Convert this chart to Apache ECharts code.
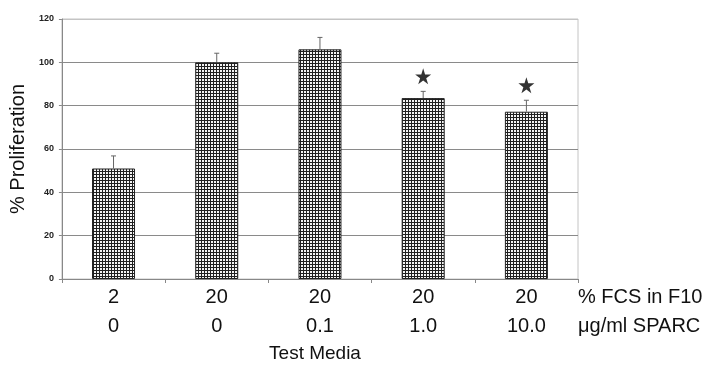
<!DOCTYPE html>
<html><head><meta charset="utf-8">
<script src="https://cdn.jsdelivr.net/npm/echarts@6/dist/echarts.min.js"></script>
<style>html,body{margin:0;padding:0;background:#fff}#c{width:720px;height:370px}</style>
</head><body><div id="c"></div>
<script>
const fcsLabels = ['2', '20', '20', '20', '20'];
const sparcLabels = ['0', '0', '0.1', '1.0', '10.0'];
const proliferation = [51, 100, 106, 83.5, 77.2];
const errorUp = [5.8, 4.2, 5.5, 3.1, 5.3];
const significant = [false, false, false, true, true];
const yTicks = { min: 0, max: 120, interval: 20 };

const categories = fcsLabels.map((f, i) => f + '\n' + sparcLabels[i]);

const tile = document.createElement('canvas');
tile.width = 3; tile.height = 3;
const tc = tile.getContext('2d');
tc.fillStyle = '#f4f4f4'; tc.fillRect(0, 0, 3, 3);
tc.fillStyle = '#202020';
tc.fillRect(0, 0, 3, 1);
tc.fillRect(0, 0, 1, 3);

const errData = proliferation.map((v, i) => [i, v, v + errorUp[i]]);
const starData = proliferation.map((v, i) => significant[i] ? [i, v + errorUp[i]] : null).filter(d => d);

const chart = echarts.init(document.getElementById('c'), null, { renderer: 'canvas' });
chart.setOption({
  animation: false,
  textStyle: { fontFamily: 'Liberation Sans, Arial, sans-serif' },
  grid: { left: 59, top: 19, width: 519, height: 260, show: true, borderColor: '#c4c4c4', borderWidth: 1 },
  xAxis: {
    type: 'category', data: categories,
    axisLine: { lineStyle: { color: '#888', width: 1 } },
    axisTick: { show: true, length: 4, lineStyle: { color: '#888' } },
    axisLabel: { fontSize: 20, color: '#111', lineHeight: 29, margin: 4, interval: 0 },
    name: '% FCS in F10\nμg/ml SPARC',
    nameLocation: 'end', nameGap: 0,
    nameTextStyle: { fontSize: 20, color: '#111', lineHeight: 29, align: 'left', verticalAlign: 'top', padding: [4, 0, 0, 0] }
  },
  yAxis: {
    type: 'value', min: yTicks.min, max: yTicks.max, interval: yTicks.interval,
    axisLine: { show: true, lineStyle: { color: '#888' } },
    axisTick: { show: true, length: 3, lineStyle: { color: '#888' } },
    axisLabel: { fontSize: 9, color: '#222', margin: 8, fontWeight: 'bold' },
    splitLine: { show: true, lineStyle: { color: ['#8a8a8a', '#8a8a8a', '#8a8a8a', '#8a8a8a', '#8a8a8a', '#8a8a8a', '#c4c4c4'], width: 1 } },
    name: '% Proliferation', nameLocation: 'middle', nameGap: 30,
    nameTextStyle: { fontSize: 20, color: '#111' }
  },
  graphic: [{
    type: 'text', x: 315, y: 354,
    style: { text: 'Test Media', fontSize: 19, fill: '#111', textAlign: 'center', textVerticalAlign: 'middle', fontFamily: 'Liberation Sans, Arial, sans-serif' }
  }],
  series: [
    {
      type: 'bar', data: proliferation, barWidth: 43,
      itemStyle: { color: { image: tile, repeat: 'repeat' }, borderColor: '#222', borderWidth: 1 },
      z: 2
    },
    {
      type: 'custom', data: errData, z: 3,
      renderItem: function (params, api) {
        const x = api.coord([api.value(0), api.value(1)])[0];
        const y0 = api.coord([api.value(0), api.value(1)])[1];
        const y1 = api.coord([api.value(0), api.value(2)])[1];
        const st = { stroke: '#666', lineWidth: 1 };
        return { type: 'group', children: [
          { type: 'line', shape: { x1: x, y1: y0, x2: x, y2: y1 }, style: st },
          { type: 'line', shape: { x1: x - 2.5, y1: y1, x2: x + 2.5, y2: y1 }, style: st }
        ] };
      }
    },
    {
      type: 'scatter', data: starData, z: 4,
      symbol: 'path://M50,0 L61.8,36.2 L100,36.2 L69.1,58.8 L80.9,95.1 L50,72.7 L19.1,95.1 L30.9,58.8 L0,36.2 L38.2,36.2 Z',
      symbolSize: 16, symbolOffset: [0, -15],
      itemStyle: { color: '#000' }
    }
  ]
});
</script></body></html>
